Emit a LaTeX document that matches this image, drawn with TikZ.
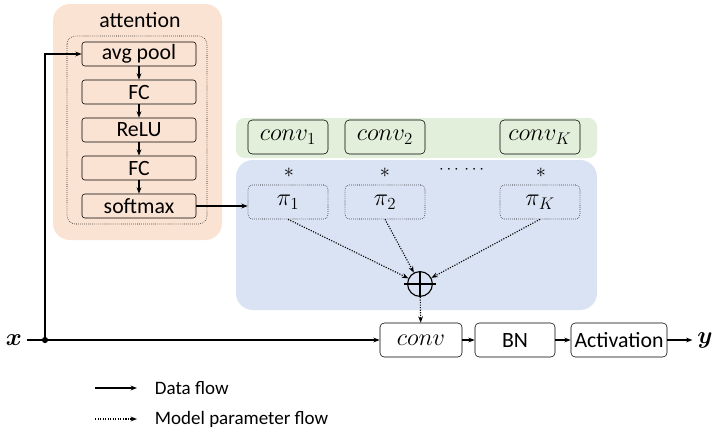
\documentclass[tikz,border=0pt]{standalone}
\usepackage{amsmath}
\usepackage{fontspec}
\setmainfont{Carlito}
\usepackage{xcolor}
\usepackage{tikz}
\usetikzlibrary{arrows.meta}
\definecolor{attnbg}{HTML}{FBE3D3}
\definecolor{convbg}{HTML}{E2EFDA}
\definecolor{mixbg}{HTML}{DAE3F3}

\begin{document}
\begin{tikzpicture}[x=0.025cm,y=-0.025cm,>={Stealth[length=1.6mm]},
  every node/.style={font=\fontsize{15.5}{17}\selectfont},
  layer/.style={draw,rounded corners=2pt,minimum width=2.85cm,minimum height=0.6cm,inner sep=0pt},
  kernel/.style={draw,rounded corners=3pt,fill=convbg,minimum width=2cm,minimum height=0.85cm,inner sep=0pt,font=\fontsize{17}{19}\selectfont},
  weight/.style={draw,densely dotted,rounded corners=3pt,minimum width=2cm,minimum height=0.85cm,inner sep=0pt,font=\fontsize{17}{19}\selectfont},
  stage/.style={draw,rounded corners=3pt,fill=white,minimum height=0.85cm,inner sep=0pt},
  flow/.style={->,line width=1.1pt},
  param/.style={->,densely dotted,thick}]
  \useasboundingbox (0,0) rectangle (720,443);
  % backgrounds
  \fill[attnbg,rounded corners=12pt] (53,4) rectangle (222,240);
  \draw[densely dotted,rounded corners=6pt] (67,36) rectangle (207,224);
  \fill[convbg,rounded corners=6pt] (236,118) rectangle (597,158);
  \fill[mixbg,rounded corners=12pt] (236,160) rectangle (597,310);
  % attention branch
  \node (title) at (140,20) {attention};
  \node[layer] (pool) at (139,54) {avg pool};
  \node[layer] (fc1) at (139,92) {FC};
  \node[layer] (relu) at (139,130) {ReLU};
  \node[layer] (fc2) at (139,168) {FC};
  \node[layer] (soft) at (139,206) {softmax};
  % kernels and weights
  \node[kernel] (conv1) at (288,137) {$conv_1$};
  \node[kernel] (conv2) at (385,137) {$conv_2$};
  \node[kernel] (convK) at (540,137) {$conv_K$};
  \node[font=\fontsize{15}{17}\selectfont] (star1) at (289,173) {$*$};
  \node[font=\fontsize{15}{17}\selectfont] (star2) at (385,173) {$*$};
  \node[font=\fontsize{15}{17}\selectfont] (starK) at (541,173) {$*$};
  \node[font=\fontsize{13}{15}\selectfont] (dots) at (463,170) {$\cdots\,\cdots$};
  \node[weight] (pi1) at (288,202) {$\pi_1$};
  \node[weight] (pi2) at (385,202) {$\pi_2$};
  \node[weight] (piK) at (540,202) {$\pi_K$};
  \node[draw,thick,circle,minimum size=0.62cm,inner sep=0pt] (sum) at (420,284) {};
  \draw[thick] (sum.north) -- (sum.south);
  \draw[thick] ([xshift=-2pt]sum.west) -- ([xshift=2pt]sum.east);
  % main path
  \node[font=\fontsize{18}{20}\selectfont] (x) at (14,340) {$\boldsymbol{x}$};
  \node[stage,minimum width=2.05cm,font=\fontsize{19}{21}\selectfont] (conv) at (421,340) {$conv$};
  \node[stage,minimum width=2cm] (bn) at (515,340) {BN};
  \node[stage,minimum width=2.4cm] (act) at (619,340) {Activation};
  \node[font=\fontsize{18}{20}\selectfont] (y) at (705,340) {$\boldsymbol{y}$};
  \coordinate (split) at (45,340);
  \fill (split) circle (2.2pt);
  \draw[flow] (x) -- (conv);
  \draw[flow] (split) |- (pool);
  \draw[flow] (pool) -- (fc1);
  \draw[flow] (fc1) -- (relu);
  \draw[flow] (relu) -- (fc2);
  \draw[flow] (fc2) -- (soft);
  \draw[flow] (soft.east) -- (soft.east -| pi1.west);
  \draw[param] (pi1.south) -- (sum);
  \draw[param] (pi2.south) -- (sum);
  \draw[param] (piK.south) -- (sum);
  \draw[param] (sum) -- (conv);
  \draw[flow] (conv) -- (bn);
  \draw[flow] (bn) -- (act);
  \draw[flow] (act) -- (y);
  % legend
  \coordinate (d0) at (95,388);
  \coordinate (d1) at (137,388);
  \coordinate (m0) at (95,419);
  \coordinate (m1) at (137,419);
  \draw[flow] (d0) -- (d1);
  \node[anchor=west,font=\fontsize{13.5}{15}\selectfont] (dlab) at (150,388) {Data flow};
  \draw[param] (m0) -- (m1);
  \node[anchor=west,font=\fontsize{13.5}{15}\selectfont] (mlab) at (150,419) {Model parameter flow};
\end{tikzpicture}
\end{document}
